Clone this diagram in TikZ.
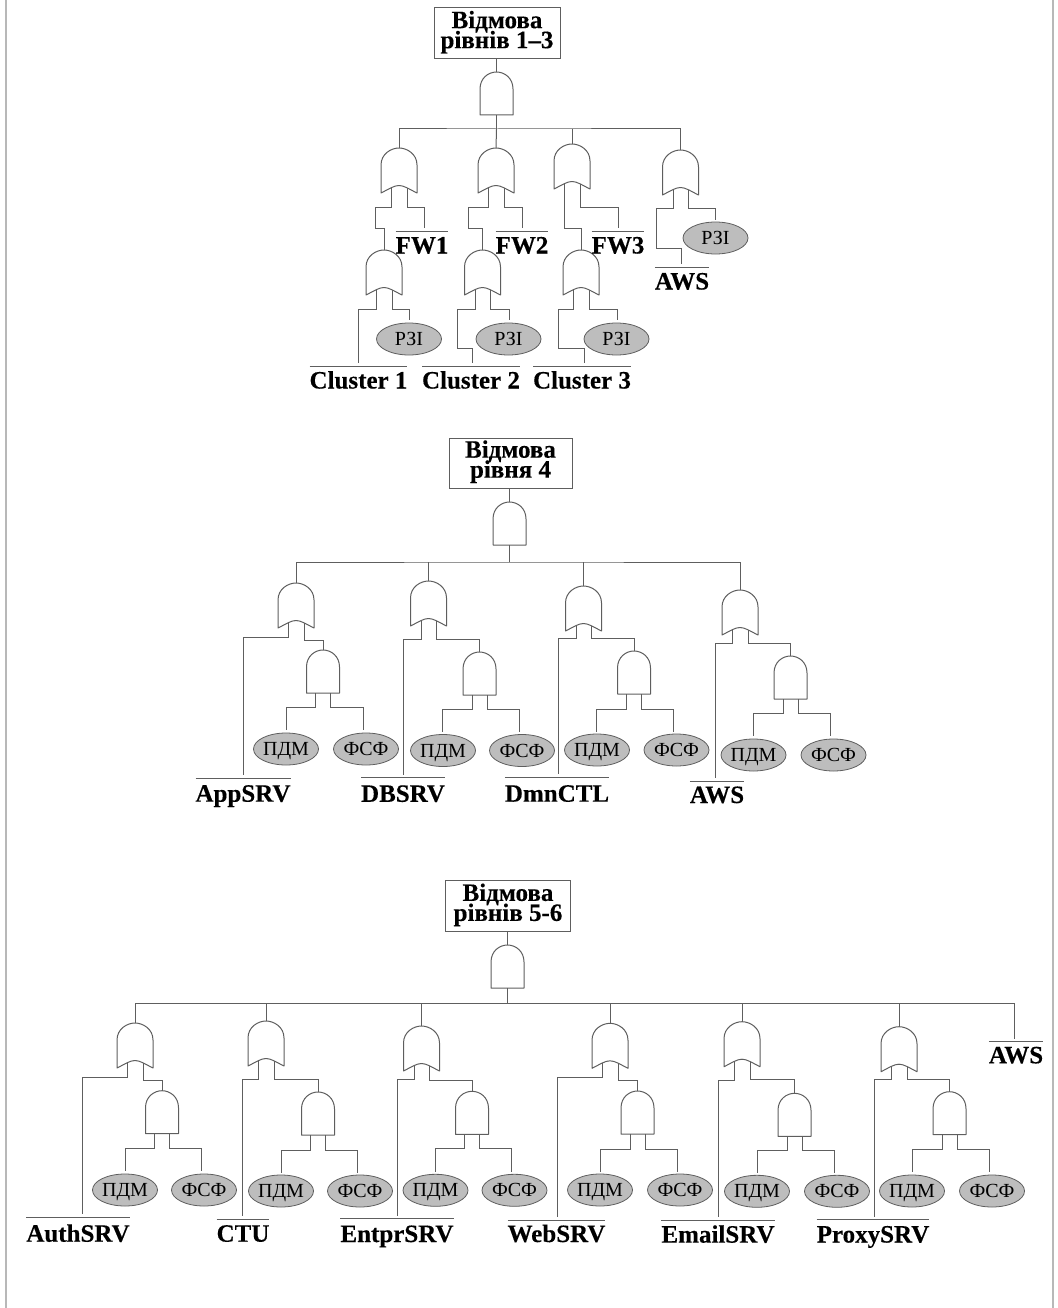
\documentclass[tikz,border=0pt]{standalone}
\usepackage{fontspec}
\setmainfont{Liberation Serif}[BoldFeatures={FakeBold=0.3}]
\usetikzlibrary{shapes.geometric}
\definecolor{wirec}{HTML}{5E5E5E}
\definecolor{ellc}{HTML}{BDBDBD}
\definecolor{framec}{HTML}{B8B8B8}
\newcommand\boxfont{\fontsize{25}{20}\selectfont\bfseries\lineskiplimit -20pt \lineskip 0pt\relax}
\tikzset{
  wire/.style={draw=wirec,line width=1pt},
  gateline/.style={draw=wirec,line width=1pt,line join=round},
  gatebox/.style={rectangle,inner sep=0pt,outer sep=0pt,minimum width=33pt},
  topbox/.style={draw=wirec,line width=1pt,fill=white,inner sep=0pt,align=center,
    minimum height=51pt,text depth=8pt,font=\boxfont},
  evt/.style={inner sep=0pt,outer sep=0pt,anchor=base,font=\fontsize{25}{25}\selectfont\bfseries},
  evline/.style={draw=wirec,line width=1pt},
  leaf/.style={ellipse,draw=wirec,line width=0.8pt,fill=ellc,inner sep=0pt,outer sep=0pt,
    minimum width=65pt,minimum height=32pt,text height=13.2pt,text depth=0pt,
    font=\fontsize{20}{20}\selectfont},
  frameline/.style={draw=framec,line width=2pt}
}
% name, cx, top
\newcommand\AndGate[3]{%
  \begin{scope}[shift={(#2,#3)}]
    \node[gatebox,minimum height=43pt] (#1) at (0,21.5) {};
    \draw[gateline] (-16.5,43) -- (-16.5,17) .. controls (-16.5,6) and (-8,0) .. (0,0)
      .. controls (8,0) and (16.5,6) .. (16.5,17) -- (16.5,43) -- cycle;
    \coordinate (#1-l) at (-7.5,43);
    \coordinate (#1-r) at (7.5,43);
  \end{scope}}
\newcommand\OrGate[3]{%
  \begin{scope}[shift={(#2,#3)}]
    \node[gatebox,minimum width=36pt,minimum height=45pt] (#1) at (0,22.5) {};
    \draw[gateline] (-18,45) -- (-18,17) .. controls (-18,6) and (-8,0) .. (0,0)
      .. controls (8,0) and (18,6) .. (18,17) -- (18,45)
      .. controls (10,41) and (5,37.5) .. (0,37.5)
      .. controls (-5,37.5) and (-10,41) .. (-18,45) -- cycle;
    \coordinate (#1-l) at (-7.5,40);
    \coordinate (#1-r) at (8,40);
  \end{scope}}
% [baseline offset], name, cx, overline y, wire x, text
\newcommand\Evt[5][22.5]{\EvtB{#1}{#2}{#3}{#4}{#5}}
\newcommand\EvtB[6]{%
  \node[evt] (#2) at (#3,#4+#1) {#6};
  \coordinate (#2-o) at (0,#4);
  \coordinate (#2-w) at (#5,#4-3);
  \draw[evline] (#2.west |- #2-o) -- (#2.east |- #2-o);}
% name, cx, cy, text, wire x, wire end y
\newcommand\Leaf[6]{%
  \node[leaf] (#1) at (#2,#3) {#4};
  \coordinate (#1-w) at (#5,#6);}
% name, cx, top, stem y, left x, right x, end y, left ell cx, right ell cx, ell cy
\newcommand\SubAnd[9]{%
  \AndGate{#1}{#2}{#3}%
  \def\tmpname{#1}\def\tmpstem{#4}\def\tmplx{#5}\def\tmprx{#6}\def\tmpend{#7}\def\tmpa{#8}\def\tmpb{#9}%
  \SubAndFin}
\newcommand\SubAndFin[1]{%
  \Leaf{\tmpname a}{\tmpa}{#1}{ПДМ}{\tmplx}{\tmpend}
  \Leaf{\tmpname b}{\tmpb}{#1}{ФСФ}{\tmprx}{\tmpend}
  \draw[wire] (\tmpname-l) |- (\tmplx,\tmpstem) -- (\tmpname a-w);
  \draw[wire] (\tmpname-r) |- (\tmprx,\tmpstem) -- (\tmpname b-w);}
\begin{document}
\begin{tikzpicture}[x=1pt,y=-1pt]
\useasboundingbox (0,0) rectangle (1057,1308);
\draw[frameline] (5.5,0) -- (5.5,1308);
\draw[frameline] (1053,0) -- (1053,1308);

%% ---------- Section 1 ----------
\node[topbox,minimum width=126pt] (b1) at (497,33.5) {Відмова\\рівнів 1–3};
\AndGate{t1}{496.5}{72}
\draw[wire] (b1.south -| t1.north) -- (t1.north);
\coordinate (bus1) at (496.5,129);
\draw[wire] (t1.south) -- (bus1);
\OrGate{o11}{399}{148}
\OrGate{o12}{496}{148}
\OrGate{o13}{572}{144}
\OrGate{o14}{680.5}{150}
\draw[wire] (o11.north) |- (bus1) -| (o14.north);
\draw[wire] (bus1) -- (o12.north);
\draw[wire] (o13.north) -- (o13.north |- bus1);
\OrGate{o21}{384}{250}
\OrGate{o22}{482.5}{250}
\OrGate{o23}{581}{250}
\Evt{fw1}{422}{231}{424}{FW1}
\Evt{fw2}{522}{231}{522}{FW2}
\Evt{fw3}{618}{231}{618}{FW3}
\Evt{awsa}{682}{267}{681}{AWS}
\Evt{cl1}{358.5}{366}{358}{Cluster 1}
\Evt{cl2}{471}{366}{472}{Cluster 2}
\Evt{cl3}{582}{366}{584}{Cluster 3}
\Leaf{r1}{409}{339}{РЗІ}{409}{320}
\Leaf{r2}{508.5}{339}{РЗІ}{509}{320}
\Leaf{r3}{616.5}{339}{РЗІ}{617}{320}
\Leaf{r4}{715.5}{238}{РЗІ}{715}{220}
\draw[wire] (o11-l) |- (375,207) |- (384,228) -- (o21.north);
\draw[wire] (o11-r) |- (fw1-w |- 0,207) -- (fw1-w);
\draw[wire] (o12-l) |- (468,207) |- (482.5,228) -- (o22.north);
\draw[wire] (o12-r) |- (fw2-w |- 0,207) -- (fw2-w);
\draw[wire] (o13-l) |- (581,228) -- (o23.north);
\draw[wire] (o13-r) |- (fw3-w |- 0,207) -- (fw3-w);
\draw[wire] (o14-l) |- (656,208) |- (681,248) -- (awsa-w);
\draw[wire] (o14-r) |- (r4-w |- 0,208) -- (r4-w);
\draw[wire] (o21-l) |- (cl1-w |- 0,309) -- (cl1-w);
\draw[wire] (o21-r) |- (r1-w |- 0,309) -- (r1-w);
\draw[wire] (o22-l) |- (457,309) |- (472,348) -- (cl2-w);
\draw[wire] (o22-r) |- (r2-w |- 0,309) -- (r2-w);
\draw[wire] (o23-l) |- (558,309) |- (584,348) -- (cl3-w);
\draw[wire] (o23-r) |- (r3-w |- 0,309) -- (r3-w);

%% ---------- Section 2 ----------
\node[topbox,minimum width=123pt,minimum height=50pt] (b2) at (510.5,463) {Відмова\\рівня 4};
\AndGate{t2}{509.5}{502}
\draw[wire] (b2.south -| t2.north) -- (t2.north);
\coordinate (bus2) at (509.5,562);
\draw[wire] (t2.south) -- (bus2);
\OrGate{oa}{296}{583}
\OrGate{ob}{428.5}{581}
\OrGate{oc}{583.5}{586}
\OrGate{od}{740}{590}
\draw[wire] (oa.north) |- (bus2) -| (od.north);
\draw[wire] (ob.north) -- (ob.north |- bus2);
\draw[wire] (oc.north) -- (oc.north |- bus2);
\SubAnd{aa}{323}{650}{707}{286}{363}{730}{286}{366}{749}
\SubAnd{ab}{479.5}{652}{709}{442}{519}{732}{443}{522}{750.5}
\SubAnd{ac}{634}{651}{709}{596}{673}{732}{597}{676.5}{750}
\SubAnd{ad}{790.5}{656}{713}{753}{830}{736}{753.5}{833.5}{755}
\Evt[23.7]{app}{243}{778}{243}{AppSRV}
\Evt[24.3]{dbs}{403}{777.5}{403}{DBSRV}
\Evt[24.7]{dmn}{557}{777}{558}{DmnCTL}
\Evt[22]{awsb}{717}{781}{715}{AWS}
\draw[wire] (oa-l) |- (app-w |- 0,637) -- (app-w);
\draw[wire] (oa-r) |- (aa.north |- 0,640) -- (aa.north);
\draw[wire] (ob-l) |- (dbs-w |- 0,639) -- (dbs-w);
\draw[wire] (ob-r) |- (ab.north |- 0,639) -- (ab.north);
\draw[wire] (oc-l) |- (dmn-w |- 0,638) -- (dmn-w);
\draw[wire] (oc-r) |- (ac.north |- 0,638) -- (ac.north);
\draw[wire] (od-l) |- (awsb-w |- 0,643) -- (awsb-w);
\draw[wire] (od-r) |- (ad.north |- 0,643) -- (ad.north);

%% ---------- Section 3 ----------
\node[topbox,minimum width=124.5pt,minimum height=51pt] (b3) at (508,906.2) {Відмова\\рівнів 5-6};
\AndGate{t3}{507.5}{945}
\draw[wire] (b3.south -| t3.north) -- (t3.north);
\coordinate (bus3) at (507.5,1003);
\draw[wire] (t3.south) -- (bus3);
\Evt[21.6]{awsc}{1016}{1041.7}{1014}{AWS}
\OrGate{ga}{135}{1023}
\OrGate{gb}{266}{1021}
\OrGate{gc}{421.5}{1026}
\OrGate{gd}{610}{1023.3}
\OrGate{ge}{742}{1021.7}
\OrGate{gf}{899}{1026.7}
\draw[wire] (ga.north) |- (bus3) -| (awsc-w);
\draw[wire] (gb.north) -- (gb.north |- bus3);
\draw[wire] (gc.north) -- (gc.north |- bus3);
\draw[wire] (gd.north) -- (gd.north |- bus3);
\draw[wire] (ge.north) -- (ge.north |- bus3);
\draw[wire] (gf.north) -- (gf.north |- bus3);
\SubAnd{ha}{162}{1090.7}{1148}{125}{201}{1171}{125}{204}{1190}
\SubAnd{hb}{318}{1092}{1150}{281}{357}{1172.7}{281}{360}{1191}
\SubAnd{hc}{472}{1091.3}{1148.7}{435}{511}{1171.7}{435.5}{514.5}{1190.3}
\SubAnd{hd}{637.5}{1091}{1149}{600}{677}{1171.7}{600}{680}{1190}
\SubAnd{he}{794.5}{1093.3}{1150.3}{757}{834}{1172.7}{757}{837}{1191.3}
\SubAnd{hf}{949.5}{1091.7}{1149.3}{912}{989}{1172}{912}{992}{1191}
\Evt[24.7]{auth}{78}{1217}{82}{AuthSRV}
\Evt[22.7]{ctu}{243}{1219}{242}{CTU}
\Evt[23.3]{entp}{397}{1218.7}{397}{EntprSRV}
\Evt[22]{webs}{556.5}{1220}{557}{WebSRV}
\Evt[22.3]{emai}{718}{1220.3}{718}{EmailSRV}
\Evt[23]{prox}{873}{1219.5}{874}{ProxySRV}
\draw[wire] (ga-l) |- (auth-w |- 0,1077) -- (auth-w);
\draw[wire] (ga-r) |- (ha.north |- 0,1080) -- (ha.north);
\draw[wire] (gb-l) |- (ctu-w |- 0,1079) -- (ctu-w);
\draw[wire] (gb-r) |- (hb.north |- 0,1079) -- (hb.north);
\draw[wire] (gc-l) |- (entp-w |- 0,1079) -- (entp-w);
\draw[wire] (gc-r) |- (hc.north |- 0,1080) -- (hc.north);
\draw[wire] (gd-l) |- (webs-w |- 0,1077.7) -- (webs-w);
\draw[wire] (gd-r) |- (hd.north |- 0,1080) -- (hd.north);
\draw[wire] (ge-l) |- (emai-w |- 0,1080) -- (emai-w);
\draw[wire] (ge-r) |- (he.north |- 0,1079) -- (he.north);
\draw[wire] (gf-l) |- (prox-w |- 0,1079.7) -- (prox-w);
\draw[wire] (gf-r) |- (hf.north |- 0,1079.7) -- (hf.north);
\end{tikzpicture}
\end{document}
